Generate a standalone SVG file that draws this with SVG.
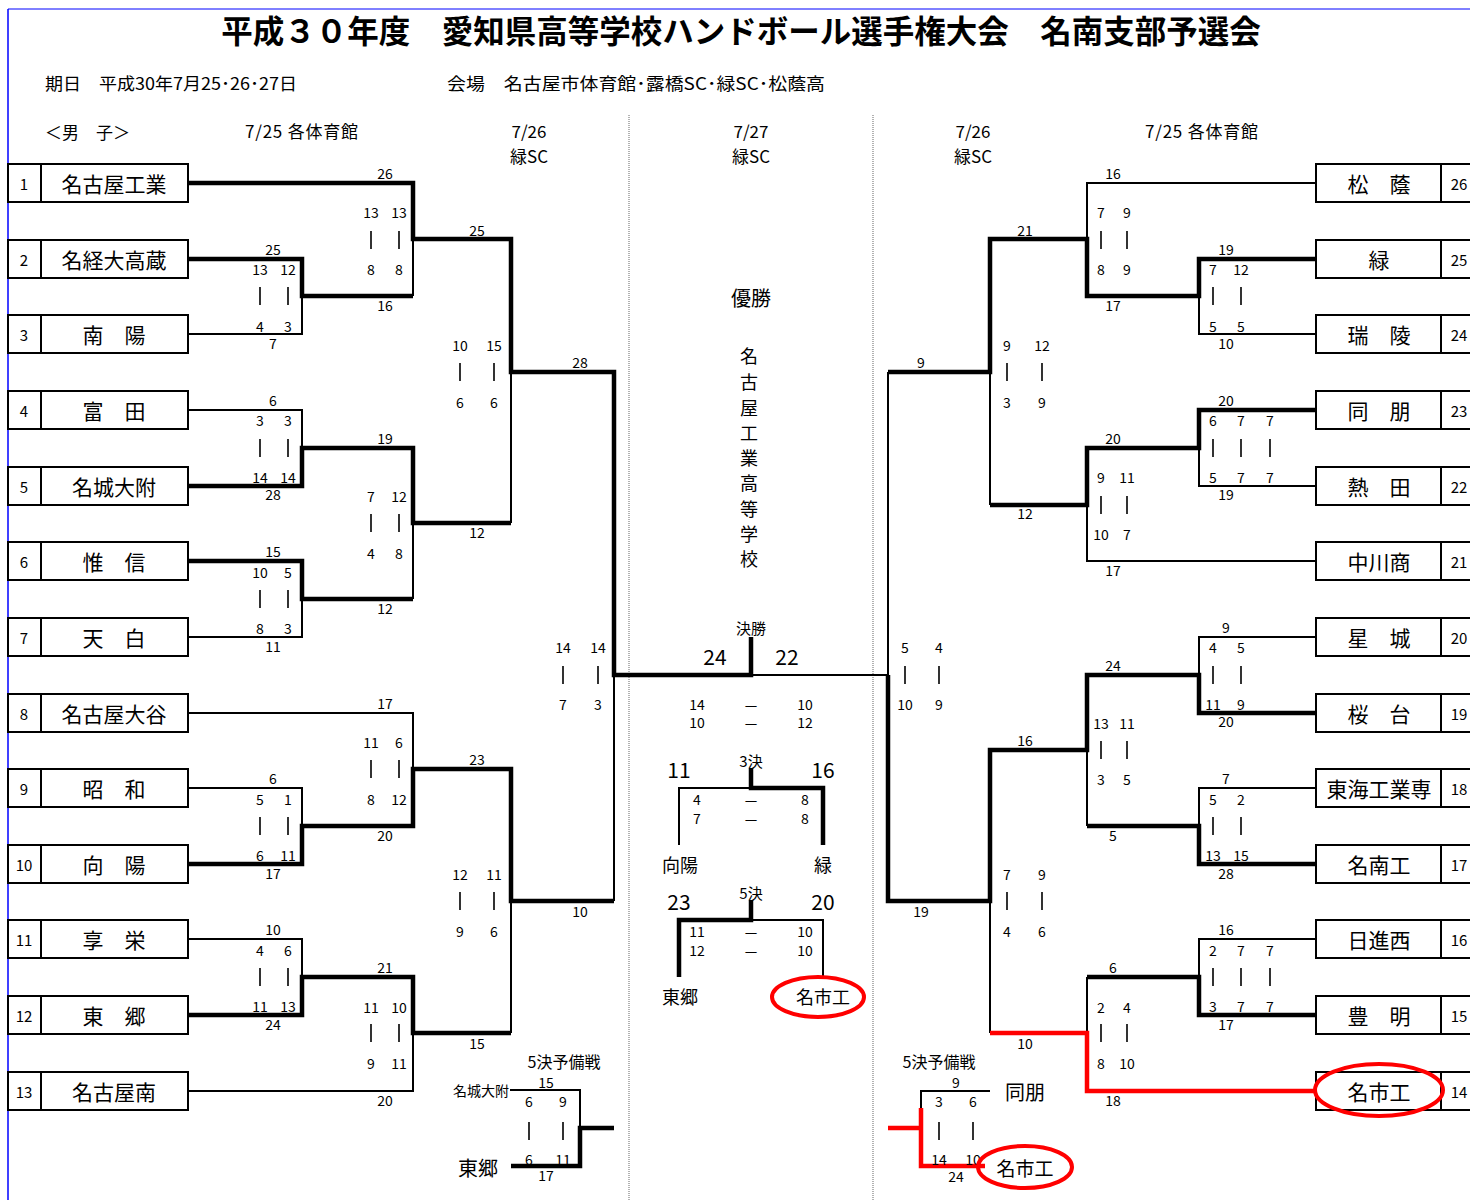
<svg xmlns="http://www.w3.org/2000/svg" width="1470" height="1200" viewBox="0 0 1470 1200">
<style>
text{font-family:"Noto Sans CJK JP","Noto Sans CJK SC",sans-serif;fill:#000;dominant-baseline:central}
.t{font-size:31.5px;font-weight:bold}
.h{font-size:17px}
.s{font-size:14px;text-anchor:middle}
.nm{font-size:21px;text-anchor:middle}
.no{font-size:15px;text-anchor:middle}
.big{font-size:21px;text-anchor:middle}
.mid{font-size:18px;text-anchor:middle}
.lab{font-size:15px;text-anchor:middle}
.box{fill:#fff;stroke:#000;stroke-width:2}
.thick{fill:none;stroke:#000;stroke-width:4.5}
.thin{fill:none;stroke:#000;stroke-width:2}
.red{fill:none;stroke:#f00;stroke-width:4.5}
.ell{fill:none;stroke:#f00;stroke-width:4}
.bar{fill:none;stroke:#000;stroke-width:1.6}
.dot{stroke:#999;stroke-width:1.5;stroke-dasharray:1 1}
</style>
<rect width="1470" height="1200" fill="#fff"/>
<line x1="8" y1="9" x2="1470" y2="9" stroke="#00f" stroke-width="1"/>
<line x1="8" y1="9" x2="8" y2="1200" stroke="#00f" stroke-width="1.5"/>
<line class="dot" x1="629" y1="115" x2="629" y2="1200"/>
<line class="dot" x1="873" y1="115" x2="873" y2="1200"/>
<text class="t" x="741" y="29" text-anchor="middle">平成３０年度　愛知県高等学校ハンドボール選手権大会　名南支部予選会</text>
<text class="h" x="45" y="82" textLength="252" lengthAdjust="spacingAndGlyphs">期日　平成30年7月25･26･27日</text>
<text class="h" x="447" y="82" textLength="378" lengthAdjust="spacingAndGlyphs">会場　名古屋市体育館･露橋SC･緑SC･松蔭高</text>
<text class="h" x="45" y="131">＜男　子＞</text>
<text class="h" x="245" y="130" textLength="113" lengthAdjust="spacing">7/25 各体育館</text>
<text class="h" x="529" y="130" text-anchor="middle">7/26</text>
<text class="h" x="529" y="155" text-anchor="middle">緑SC</text>
<text class="h" x="751" y="130" text-anchor="middle">7/27</text>
<text class="h" x="751" y="155" text-anchor="middle">緑SC</text>
<text class="h" x="973" y="130" text-anchor="middle">7/26</text>
<text class="h" x="973" y="155" text-anchor="middle">緑SC</text>
<text class="h" x="1145" y="130" textLength="113" lengthAdjust="spacing">7/25 各体育館</text>

<g id="connectors">
<path class="thick" d="M188,183 H413 V239 H511 V372 H614 V675 H751 V637"/>
<path class="thick" d="M188,259 H302 V296 H413"/>
<path class="thin" d="M188,334 H302 V296"/>
<path class="thin" d="M413,239 V296"/>
<path class="thin" d="M188,410 H302 V448"/>
<path class="thick" d="M188,486 H302 V448 H413 V523 H511"/>
<path class="thin" d="M511,372 V523"/>
<path class="thick" d="M188,561 H302 V599 H413"/>
<path class="thin" d="M188,637 H302 V599"/>
<path class="thin" d="M413,599 V523"/>
<path class="thin" d="M188,713 H413 V769"/>
<path class="thin" d="M188,788 H302 V826"/>
<path class="thick" d="M188,864 H302 V826 H413 V769 H511 V901 H614"/>
<path class="thin" d="M614,675 V901"/>
<path class="thin" d="M188,939 H302 V977"/>
<path class="thick" d="M188,1015 H302 V977 H413 V1033 H511"/>
<path class="thin" d="M188,1091 H413 V1033"/>
<path class="thin" d="M511,901 V1033"/>
<path class="thin" d="M510,1090 H580 V1128"/>
<path class="thick" d="M511,1166 H580 V1128 H614"/>
<path class="thin" d="M751,675 H888 V372"/>
<path class="thick" d="M1316,259 H1199 V296 H1087 V239 H990 V372 H888"/>
<path class="thin" d="M1316,334 H1199 V296"/>
<path class="thin" d="M1316,183 H1087 V239"/>
<path class="thick" d="M1316,410 H1199 V448 H1087 V505 H990"/>
<path class="thin" d="M1316,486 H1199 V448"/>
<path class="thin" d="M1316,561 H1087 V505"/>
<path class="thin" d="M990,372 V505"/>
<path class="thick" d="M888,675 V901 H990 V750 H1087 V675 H1199 V713 H1316"/>
<path class="thin" d="M1316,637 H1199 V675"/>
<path class="thick" d="M1316,864 H1199 V826 H1087"/>
<path class="thin" d="M1316,788 H1199 V826"/>
<path class="thin" d="M1087,750 V826"/>
<path class="thin" d="M1316,939 H1199 V977"/>
<path class="thick" d="M1316,1015 H1199 V977 H1087"/>
<path class="thin" d="M1087,977 V1033"/>
<path class="thin" d="M990,901 V1033"/>
<path class="red" d="M990,1033 H1087 V1091 H1316"/>
<path class="thin" d="M990,1091 H921 V1110"/>
<path class="red" d="M921,1108 V1166 H985"/>
<path class="red" d="M888,1128 H921"/>
<path class="thick" d="M751,768 V788 H823 V845"/>
<path class="thin" d="M751,788 H679 V845"/>
<path class="thick" d="M751,900 V920 H679 V977"/>
<path class="thin" d="M751,920 H823 V976"/>
</g>

<g id="team-L1"><rect class="box" x="8" y="164" width="33" height="38"/><rect class="box" x="41" y="164" width="147" height="38"/><text class="no" x="24" y="183">1</text><text class="nm" x="114" y="183">名古屋工業</text></g>
<g id="team-L2"><rect class="box" x="8" y="240" width="33" height="38"/><rect class="box" x="41" y="240" width="147" height="38"/><text class="no" x="24" y="259">2</text><text class="nm" x="114" y="259">名経大高蔵</text></g>
<g id="team-L3"><rect class="box" x="8" y="315" width="33" height="38"/><rect class="box" x="41" y="315" width="147" height="38"/><text class="no" x="24" y="334">3</text><text class="nm" x="114" y="334">南　陽</text></g>
<g id="team-L4"><rect class="box" x="8" y="391" width="33" height="38"/><rect class="box" x="41" y="391" width="147" height="38"/><text class="no" x="24" y="410">4</text><text class="nm" x="114" y="410">富　田</text></g>
<g id="team-L5"><rect class="box" x="8" y="467" width="33" height="38"/><rect class="box" x="41" y="467" width="147" height="38"/><text class="no" x="24" y="486">5</text><text class="nm" x="114" y="486">名城大附</text></g>
<g id="team-L6"><rect class="box" x="8" y="542" width="33" height="38"/><rect class="box" x="41" y="542" width="147" height="38"/><text class="no" x="24" y="561">6</text><text class="nm" x="114" y="561">惟　信</text></g>
<g id="team-L7"><rect class="box" x="8" y="618" width="33" height="38"/><rect class="box" x="41" y="618" width="147" height="38"/><text class="no" x="24" y="637">7</text><text class="nm" x="114" y="637">天　白</text></g>
<g id="team-L8"><rect class="box" x="8" y="694" width="33" height="38"/><rect class="box" x="41" y="694" width="147" height="38"/><text class="no" x="24" y="713">8</text><text class="nm" x="114" y="713">名古屋大谷</text></g>
<g id="team-L9"><rect class="box" x="8" y="769" width="33" height="38"/><rect class="box" x="41" y="769" width="147" height="38"/><text class="no" x="24" y="788">9</text><text class="nm" x="114" y="788">昭　和</text></g>
<g id="team-L10"><rect class="box" x="8" y="845" width="33" height="38"/><rect class="box" x="41" y="845" width="147" height="38"/><text class="no" x="24" y="864">10</text><text class="nm" x="114" y="864">向　陽</text></g>
<g id="team-L11"><rect class="box" x="8" y="920" width="33" height="38"/><rect class="box" x="41" y="920" width="147" height="38"/><text class="no" x="24" y="939">11</text><text class="nm" x="114" y="939">享　栄</text></g>
<g id="team-L12"><rect class="box" x="8" y="996" width="33" height="38"/><rect class="box" x="41" y="996" width="147" height="38"/><text class="no" x="24" y="1015">12</text><text class="nm" x="114" y="1015">東　郷</text></g>
<g id="team-L13"><rect class="box" x="8" y="1072" width="33" height="38"/><rect class="box" x="41" y="1072" width="147" height="38"/><text class="no" x="24" y="1091">13</text><text class="nm" x="114" y="1091">名古屋南</text></g>

<g id="team-R26"><rect class="box" x="1316" y="164" width="125" height="38"/><rect class="box" x="1441" y="164" width="40" height="38"/><text class="nm" x="1379" y="183">松　蔭</text><text class="no" x="1459" y="183">26</text></g>
<g id="team-R25"><rect class="box" x="1316" y="240" width="125" height="38"/><rect class="box" x="1441" y="240" width="40" height="38"/><text class="nm" x="1379" y="259">緑</text><text class="no" x="1459" y="259">25</text></g>
<g id="team-R24"><rect class="box" x="1316" y="315" width="125" height="38"/><rect class="box" x="1441" y="315" width="40" height="38"/><text class="nm" x="1379" y="334">瑞　陵</text><text class="no" x="1459" y="334">24</text></g>
<g id="team-R23"><rect class="box" x="1316" y="391" width="125" height="38"/><rect class="box" x="1441" y="391" width="40" height="38"/><text class="nm" x="1379" y="410">同　朋</text><text class="no" x="1459" y="410">23</text></g>
<g id="team-R22"><rect class="box" x="1316" y="467" width="125" height="38"/><rect class="box" x="1441" y="467" width="40" height="38"/><text class="nm" x="1379" y="486">熱　田</text><text class="no" x="1459" y="486">22</text></g>
<g id="team-R21"><rect class="box" x="1316" y="542" width="125" height="38"/><rect class="box" x="1441" y="542" width="40" height="38"/><text class="nm" x="1379" y="561">中川商</text><text class="no" x="1459" y="561">21</text></g>
<g id="team-R20"><rect class="box" x="1316" y="618" width="125" height="38"/><rect class="box" x="1441" y="618" width="40" height="38"/><text class="nm" x="1379" y="637">星　城</text><text class="no" x="1459" y="637">20</text></g>
<g id="team-R19"><rect class="box" x="1316" y="694" width="125" height="38"/><rect class="box" x="1441" y="694" width="40" height="38"/><text class="nm" x="1379" y="713">桜　台</text><text class="no" x="1459" y="713">19</text></g>
<g id="team-R18"><rect class="box" x="1316" y="769" width="125" height="38"/><rect class="box" x="1441" y="769" width="40" height="38"/><text class="nm" x="1379" y="788">東海工業専</text><text class="no" x="1459" y="788">18</text></g>
<g id="team-R17"><rect class="box" x="1316" y="845" width="125" height="38"/><rect class="box" x="1441" y="845" width="40" height="38"/><text class="nm" x="1379" y="864">名南工</text><text class="no" x="1459" y="864">17</text></g>
<g id="team-R16"><rect class="box" x="1316" y="920" width="125" height="38"/><rect class="box" x="1441" y="920" width="40" height="38"/><text class="nm" x="1379" y="939">日進西</text><text class="no" x="1459" y="939">16</text></g>
<g id="team-R15"><rect class="box" x="1316" y="996" width="125" height="38"/><rect class="box" x="1441" y="996" width="40" height="38"/><text class="nm" x="1379" y="1015">豊　明</text><text class="no" x="1459" y="1015">15</text></g>
<g id="team-R14"><rect class="box" x="1316" y="1072" width="125" height="38"/><rect class="box" x="1441" y="1072" width="40" height="38"/><text class="nm" x="1379" y="1091">名市工</text><text class="no" x="1459" y="1091">14</text><ellipse class="ell" cx="1379" cy="1090" rx="64" ry="26"/></g>

<g id="scores-left">
<path class="bar" d="M260,287v18M288,287v18M260,439v18M288,439v18M260,590v18M288,590v18M260,817v18M288,817v18M260,968v18M288,968v18M371,231v18M399,231v18M371,514v18M399,514v18M371,760v18M399,760v18M371,1024v18M399,1024v18M460,363v18M494,363v18M460,892v18M494,892v18M563,666v18M598,666v18M529,1122v18M563,1122v18"/>
<text class="s" x="273" y="249">25</text><text class="s" x="260" y="269">13</text><text class="s" x="288" y="269">12</text><text class="s" x="260" y="326">4</text><text class="s" x="288" y="326">3</text><text class="s" x="273" y="343">7</text>
<text class="s" x="273" y="400">6</text><text class="s" x="260" y="420">3</text><text class="s" x="288" y="420">3</text><text class="s" x="260" y="477">14</text><text class="s" x="288" y="477">14</text><text class="s" x="273" y="494">28</text>
<text class="s" x="273" y="551">15</text><text class="s" x="260" y="572">10</text><text class="s" x="288" y="572">5</text><text class="s" x="260" y="628">8</text><text class="s" x="288" y="628">3</text><text class="s" x="273" y="646">11</text>
<text class="s" x="273" y="778">6</text><text class="s" x="260" y="799">5</text><text class="s" x="288" y="799">1</text><text class="s" x="260" y="855">6</text><text class="s" x="288" y="855">11</text><text class="s" x="273" y="873">17</text>
<text class="s" x="273" y="929">10</text><text class="s" x="260" y="950">4</text><text class="s" x="288" y="950">6</text><text class="s" x="260" y="1006">11</text><text class="s" x="288" y="1006">13</text><text class="s" x="273" y="1024">24</text>
<text class="s" x="385" y="173">26</text><text class="s" x="371" y="212">13</text><text class="s" x="399" y="212">13</text><text class="s" x="371" y="269">8</text><text class="s" x="399" y="269">8</text><text class="s" x="385" y="305">16</text>
<text class="s" x="385" y="438">19</text><text class="s" x="371" y="496">7</text><text class="s" x="399" y="496">12</text><text class="s" x="371" y="553">4</text><text class="s" x="399" y="553">8</text><text class="s" x="385" y="608">12</text>
<text class="s" x="385" y="703">17</text><text class="s" x="371" y="742">11</text><text class="s" x="399" y="742">6</text><text class="s" x="371" y="799">8</text><text class="s" x="399" y="799">12</text><text class="s" x="385" y="835">20</text>
<text class="s" x="385" y="967">21</text><text class="s" x="371" y="1007">11</text><text class="s" x="399" y="1007">10</text><text class="s" x="371" y="1063">9</text><text class="s" x="399" y="1063">11</text><text class="s" x="385" y="1100">20</text>
<text class="s" x="477" y="230">25</text><text class="s" x="460" y="345">10</text><text class="s" x="494" y="345">15</text><text class="s" x="460" y="402">6</text><text class="s" x="494" y="402">6</text><text class="s" x="477" y="532">12</text>
<text class="s" x="477" y="759">23</text><text class="s" x="460" y="874">12</text><text class="s" x="494" y="874">11</text><text class="s" x="460" y="931">9</text><text class="s" x="494" y="931">6</text><text class="s" x="477" y="1043">15</text>
<text class="s" x="580" y="362">28</text><text class="s" x="563" y="647">14</text><text class="s" x="598" y="647">14</text><text class="s" x="563" y="704">7</text><text class="s" x="598" y="704">3</text><text class="s" x="580" y="911">10</text>
</g>

<g id="consolation-left">
<text class="lab" x="564" y="1061" style="font-size:16px">5決予備戦</text>
<text x="509" y="1090" style="font-size:14px" text-anchor="end">名城大附</text>
<text class="s" x="546" y="1082">15</text>
<text class="s" x="529" y="1101">6</text><text class="s" x="563" y="1101">9</text>
<text class="s" x="529" y="1159">6</text><text class="s" x="563" y="1159">11</text>
<text class="s" x="546" y="1175">17</text>
<text x="478" y="1167" style="font-size:20px" text-anchor="middle">東郷</text>
</g>

<g id="center">
<text x="751" y="297" style="font-size:20px" text-anchor="middle">優勝</text>
<text class="mid" x="749" y="355">名</text><text class="mid" x="749" y="381">古</text><text class="mid" x="749" y="407">屋</text><text class="mid" x="749" y="432">工</text><text class="mid" x="749" y="457">業</text><text class="mid" x="749" y="482">高</text><text class="mid" x="749" y="508">等</text><text class="mid" x="749" y="533">学</text><text class="mid" x="749" y="558">校</text>
<text class="lab" x="751" y="627">決勝</text>
<text class="big" x="715" y="656">24</text><text class="big" x="787" y="656">22</text>
<text class="s" x="697" y="704">14</text><text class="s" x="751" y="704">—</text><text class="s" x="805" y="704">10</text>
<text class="s" x="697" y="722">10</text><text class="s" x="751" y="722">—</text><text class="s" x="805" y="722">12</text>
<text class="lab" x="751" y="760">3決</text>
<text class="big" x="679" y="769">11</text><text class="big" x="823" y="769">16</text>
<text class="s" x="697" y="799">4</text><text class="s" x="751" y="799">—</text><text class="s" x="805" y="799">8</text>
<text class="s" x="697" y="818">7</text><text class="s" x="751" y="818">—</text><text class="s" x="805" y="818">8</text>
<text class="mid" x="680" y="864">向陽</text><text class="mid" x="823" y="864">緑</text>
<text class="lab" x="751" y="892">5決</text>
<text class="big" x="679" y="901">23</text><text class="big" x="823" y="901">20</text>
<text class="s" x="697" y="931">11</text><text class="s" x="751" y="931">—</text><text class="s" x="805" y="931">10</text>
<text class="s" x="697" y="950">12</text><text class="s" x="751" y="950">—</text><text class="s" x="805" y="950">10</text>
<text class="mid" x="680" y="996">東郷</text><text class="mid" x="823" y="996">名市工</text>
<ellipse class="ell" cx="818" cy="997" rx="46" ry="20"/>
</g>

<g id="scores-right">
<path class="bar" d="M1213,287v18M1241,287v18M1213,439v18M1241,439v18M1270,439v18M1213,666v18M1241,666v18M1213,817v18M1241,817v18M1213,968v18M1241,968v18M1270,968v18M1101,231v18M1127,231v18M1101,496v18M1127,496v18M1101,741v18M1127,741v18M1101,1024v18M1127,1024v18M1007,363v18M1042,363v18M1007,892v18M1042,892v18M905,666v18M939,666v18M939,1122v18M973,1122v18"/>
<text class="s" x="1226" y="249">19</text><text class="s" x="1213" y="269">7</text><text class="s" x="1241" y="269">12</text><text class="s" x="1213" y="326">5</text><text class="s" x="1241" y="326">5</text><text class="s" x="1226" y="343">10</text>
<text class="s" x="1226" y="400">20</text><text class="s" x="1213" y="420">6</text><text class="s" x="1241" y="420">7</text><text class="s" x="1270" y="420">7</text><text class="s" x="1213" y="477">5</text><text class="s" x="1241" y="477">7</text><text class="s" x="1270" y="477">7</text><text class="s" x="1226" y="494">19</text>
<text class="s" x="1226" y="627">9</text><text class="s" x="1213" y="647">4</text><text class="s" x="1241" y="647">5</text><text class="s" x="1213" y="704">11</text><text class="s" x="1241" y="704">9</text><text class="s" x="1226" y="721">20</text>
<text class="s" x="1226" y="778">7</text><text class="s" x="1213" y="799">5</text><text class="s" x="1241" y="799">2</text><text class="s" x="1213" y="855">13</text><text class="s" x="1241" y="855">15</text><text class="s" x="1226" y="873">28</text>
<text class="s" x="1226" y="929">16</text><text class="s" x="1213" y="950">2</text><text class="s" x="1241" y="950">7</text><text class="s" x="1270" y="950">7</text><text class="s" x="1213" y="1006">3</text><text class="s" x="1241" y="1006">7</text><text class="s" x="1270" y="1006">7</text><text class="s" x="1226" y="1024">17</text>
<text class="s" x="1113" y="173">16</text><text class="s" x="1101" y="212">7</text><text class="s" x="1127" y="212">9</text><text class="s" x="1101" y="269">8</text><text class="s" x="1127" y="269">9</text><text class="s" x="1113" y="305">17</text>
<text class="s" x="1113" y="438">20</text><text class="s" x="1101" y="477">9</text><text class="s" x="1127" y="477">11</text><text class="s" x="1101" y="534">10</text><text class="s" x="1127" y="534">7</text><text class="s" x="1113" y="570">17</text>
<text class="s" x="1113" y="665">24</text><text class="s" x="1101" y="723">13</text><text class="s" x="1127" y="723">11</text><text class="s" x="1101" y="779">3</text><text class="s" x="1127" y="779">5</text><text class="s" x="1113" y="835">5</text>
<text class="s" x="1113" y="967">6</text><text class="s" x="1101" y="1007">2</text><text class="s" x="1127" y="1007">4</text><text class="s" x="1101" y="1063">8</text><text class="s" x="1127" y="1063">10</text><text class="s" x="1113" y="1100">18</text>
<text class="s" x="1025" y="230">21</text><text class="s" x="1007" y="345">9</text><text class="s" x="1042" y="345">12</text><text class="s" x="1007" y="402">3</text><text class="s" x="1042" y="402">9</text><text class="s" x="1025" y="513">12</text>
<text class="s" x="1025" y="740">16</text><text class="s" x="1007" y="874">7</text><text class="s" x="1042" y="874">9</text><text class="s" x="1007" y="931">4</text><text class="s" x="1042" y="931">6</text><text class="s" x="1025" y="1043">10</text>
<text class="s" x="921" y="362">9</text><text class="s" x="905" y="647">5</text><text class="s" x="939" y="647">4</text><text class="s" x="905" y="704">10</text><text class="s" x="939" y="704">9</text><text class="s" x="921" y="911">19</text>
</g>

<g id="consolation-right">
<text class="lab" x="939" y="1061" style="font-size:16px">5決予備戦</text>
<text class="s" x="956" y="1082">9</text>
<text x="1025" y="1091" style="font-size:20px" text-anchor="middle">同朋</text>
<text class="s" x="939" y="1101">3</text><text class="s" x="973" y="1101">6</text>
<text class="s" x="939" y="1159">14</text><text class="s" x="973" y="1159">10</text>
<text class="s" x="956" y="1176">24</text>
<text x="1025" y="1167" style="font-size:19px" text-anchor="middle">名市工</text>
<ellipse class="ell" cx="1025" cy="1167" rx="47" ry="21"/>
</g>
</svg>
